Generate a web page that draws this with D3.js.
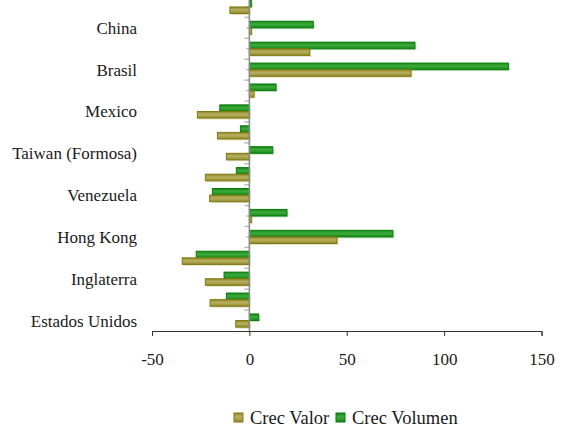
<!doctype html>
<html>
<head>
<meta charset="utf-8">
<style>
  body { margin: 0; background: #fff; }
</style>
<script src="https://d3js.org/d3.v7.min.js"></script>
</head>
<body>
<svg width="563" height="430" id="chart"></svg>
<script>
// categories, top to bottom; Excel only printed every other name
var categories = ["", "China", "", "Brasil", "", "Mexico", "", "Taiwan (Formosa)",
                  "", "Venezuela", "", "Hong Kong", "", "Inglaterra", "", "Estados Unidos"];
var crecValor   = [-10, 1, 31, 83, 2.4, -26.7, -16.4, -11.8, -22.6, -20.4, 1, 45, -34.5, -22.6, -20.2, -7];
var crecVolumen = [1, 32.8, 85, 133, 13.7, -15.2, -4.6, 12, -6.7, -19, 19.3, 73.7, -27.3, -13, -11.8, 4.8];
var xTicks = [-50, 0, 50, 100, 150];
var seriesNames = ["Crec Valor", "Crec Volumen"];

var FONT = "'Liberation Serif'";
var svg = d3.select("#chart");
var defs = svg.append("defs");

function grad(id, light, dark) {
    var g = defs.append("linearGradient").attr("id", id)
        .attr("x1", 0).attr("y1", 0).attr("x2", 0).attr("y2", 1);
    g.append("stop").attr("offset", "0%").attr("stop-color", dark);
    g.append("stop").attr("offset", "45%").attr("stop-color", light);
    g.append("stop").attr("offset", "100%").attr("stop-color", dark);
}
grad("gVal", "#b8b060", "#8f8a2a");
grad("gVol", "#3eaa3e", "#128a12");

var x = d3.scaleLinear().domain([-50, 150]).range([152, 541.5]);
// plot area is cut off a little at the top of the picture
var y = d3.scaleBand().domain(d3.range(categories.length)).range([-3.5, 331]);
var bh = 6.6;

// y axis ticks (boundaries + centres)
var ax = svg.append("g");
d3.range(categories.length).forEach(function(i) {
    if (i > 0) {
        ax.append("line").attr("x1", x(0) - 5).attr("x2", x(0))
          .attr("y1", y(i)).attr("y2", y(i))
          .attr("stroke", "#bbb").attr("stroke-width", 1.5);
    }
    ax.append("line").attr("x1", x(0) - 3).attr("x2", x(0))
      .attr("y1", y(i) + y.bandwidth() / 2).attr("y2", y(i) + y.bandwidth() / 2)
      .attr("stroke", "#999").attr("stroke-width", 1);
});

// bars
var g = svg.append("g");
function drawSeries(vals, fill, stroke, offset) {
    vals.forEach(function(v, i) {
        var cy = y(i) + y.bandwidth() / 2 + offset;
        var x0 = Math.min(x(0), x(v)), w = Math.abs(x(v) - x(0));
        g.append("rect").attr("x", x0 + 1.5).attr("y", cy + 1.5)
          .attr("width", w).attr("height", bh)
          .attr("fill", stroke).attr("opacity", 0.2);
        g.append("rect").attr("x", x0).attr("y", cy)
          .attr("width", w).attr("height", bh)
          .attr("fill", fill).attr("stroke", stroke).attr("stroke-width", 1);
    });
}
drawSeries(crecVolumen, "url(#gVol)", "#0a7a0a", -bh);
drawSeries(crecValor, "url(#gVal)", "#7f7a10", 0);

// vertical zero line
svg.append("line").attr("x1", x(0)).attr("x2", x(0)).attr("y1", 0).attr("y2", 331)
   .attr("stroke", "#8a8a8a").attr("stroke-width", 1.5);

// category labels
svg.append("g").selectAll("text")
   .data(categories).enter().append("text")
   .attr("x", 137)
   .attr("y", function(d, i) { return y(i) + y.bandwidth() / 2 + 6; })
   .attr("text-anchor", "end")
   .attr("fill", "#1a1a1a")
   .style("font-family", FONT)
   .style("font-size", "17px")
   .text(function(d) { return d; });

// x axis
var xa = svg.append("g").attr("transform", "translate(0,331)")
   .call(d3.axisBottom(x).tickValues(xTicks).tickSize(5).tickPadding(17)
         .tickFormat(function(d) { return String(d); }));
xa.select(".domain").attr("stroke", "#333");
xa.selectAll(".tick line").attr("stroke", "#333");
xa.selectAll(".tick text").attr("fill", "#1a1a1a")
  .style("font-family", FONT).style("font-size", "17px");

// legend
var lg = svg.append("g").attr("transform", "translate(234,413)");
var lx = [0, 102];
var lfill = ["url(#gVal)", "url(#gVol)"], lstroke = ["#7f7a10", "#0a7a0a"];
seriesNames.forEach(function(n, i) {
    lg.append("rect").attr("x", lx[i]).attr("y", 0).attr("width", 9).attr("height", 9)
      .attr("fill", lfill[i]).attr("stroke", lstroke[i]);
    lg.append("text").attr("x", lx[i] + 16).attr("y", 11).attr("fill", "#1a1a1a")
      .style("font-family", FONT).style("font-size", "18.5px").text(n);
});
</script>
</body>
</html>
